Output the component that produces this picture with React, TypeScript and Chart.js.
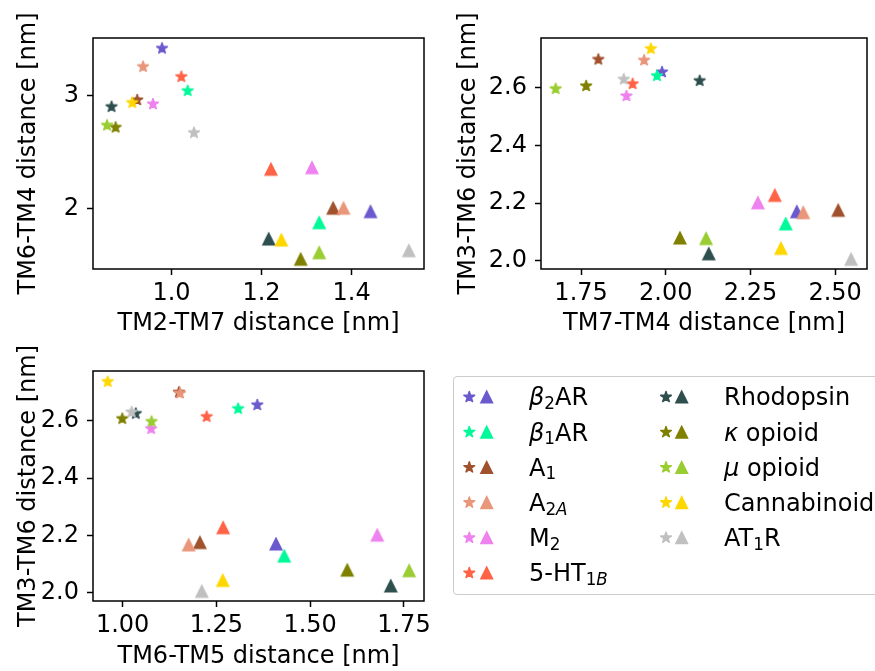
import React, { useEffect, useRef } from "react";
import { Chart, registerables } from "chart.js";
Chart.register(...registerables);

const FONT = "'DejaVu Sans', 'Liberation Sans', sans-serif";

// receptor order: β2AR, β1AR, A1, A2A, M2, 5-HT1B, Rhodopsin, κ opioid, μ opioid, Cannabinoid, AT1R
const receptorKeys = ["b2AR", "b1AR", "A1", "A2A", "M2", "5HT1B", "Rhodopsin", "kappa", "mu", "Cannabinoid", "AT1R"];
const receptorColors = ["#6A5ACD", "#00FA9A", "#A0522D", "#E9967A", "#EE82EE", "#FF6347", "#2F4F4F", "#808000", "#9ACD32", "#FFD700", "#C0C0C0"];

// star markers
const starTM2TM7 = [0.979, 1.036, 0.924, 0.937, 0.959, 1.022, 0.867, 0.876, 0.857, 0.913, 1.05];
const starTM6TM4 = [3.422, 3.045, 2.963, 3.259, 2.927, 3.17, 2.903, 2.72, 2.738, 2.939, 2.672];
const starTM7TM4 = [1.989, 1.974, 1.801, 1.936, 1.884, 1.902, 2.1, 1.765, 1.675, 1.956, 1.876];
const starTM3TM6 = [2.655, 2.642, 2.699, 2.696, 2.572, 2.614, 2.625, 2.607, 2.597, 2.736, 2.63];
const starTM6TM5 = [1.359, 1.308, 1.15, 1.153, 1.076, 1.224, 1.035, 0.999, 1.077, 0.96, 1.024];

// triangle markers
const triTM2TM7 = [1.442, 1.328, 1.359, 1.382, 1.312, 1.221, 1.216, 1.287, 1.328, 1.244, 1.527];
const triTM6TM4 = [1.97, 1.872, 2.001, 2.001, 2.361, 2.347, 1.727, 1.547, 1.605, 1.718, 1.623];
const triTM7TM4 = [2.387, 2.354, 2.509, 2.406, 2.272, 2.322, 2.127, 2.042, 2.119, 2.34, 2.547];
const triTM3TM6 = [2.17, 2.128, 2.175, 2.167, 2.201, 2.227, 2.024, 2.079, 2.077, 2.043, 2.005];
const triTM6TM5 = [1.409, 1.431, 1.206, 1.176, 1.679, 1.268, 1.715, 1.599, 1.764, 1.267, 1.211];

// ticks
const xTicks1 = [1.0, 1.2, 1.4];
const yTicks1 = [2, 3];
const xTicks2 = [1.75, 2.0, 2.25, 2.5];
const yTicks2 = [2.0, 2.2, 2.4, 2.6];
const xTicks3 = [1.0, 1.25, 1.5, 1.75];
const yTicks3 = [2.0, 2.2, 2.4, 2.6];

const imgCache: Record<string, HTMLCanvasElement> = {};

function starImage(color: string) {
  const key = "s" + color;
  if (imgCache[key]) return imgCache[key];
  const size = 16;
  const c = document.createElement("canvas");
  c.width = size;
  c.height = size;
  const ctx = c.getContext("2d")!;
  const cx = size / 2, cy = size / 2;
  const R = 5.6, r = R * 0.381966;
  ctx.beginPath();
  for (let k = 0; k < 10; k++) {
    const ang = -Math.PI / 2 + (k * Math.PI) / 5;
    const rad = k % 2 === 0 ? R : r;
    const px = cx + rad * Math.cos(ang), py = cy + rad * Math.sin(ang);
    if (k === 0) ctx.moveTo(px, py); else ctx.lineTo(px, py);
  }
  ctx.closePath();
  ctx.fillStyle = color;
  ctx.fill();
  ctx.lineWidth = 1.5;
  ctx.lineJoin = "round";
  ctx.strokeStyle = color;
  ctx.stroke();
  imgCache[key] = c;
  return c;
}

function triImage(color: string) {
  const key = "t" + color;
  if (imgCache[key]) return imgCache[key];
  const size = 20;
  const c = document.createElement("canvas");
  c.width = size;
  c.height = size;
  const ctx = c.getContext("2d")!;
  const cx = size / 2, cy = size / 2;
  const h = 11.6 / 2;
  ctx.beginPath();
  ctx.moveTo(cx, cy - h);
  ctx.lineTo(cx - h, cy + h);
  ctx.lineTo(cx + h, cy + h);
  ctx.closePath();
  ctx.fillStyle = color;
  ctx.fill();
  ctx.lineWidth = 1.5;
  ctx.lineJoin = "miter";
  ctx.strokeStyle = color;
  ctx.stroke();
  imgCache[key] = c;
  return c;
}

const framePlugin = {
  id: "frame",
  afterDatasetsDraw(chart: any) {
    const { ctx, chartArea: a } = chart;
    ctx.save();
    ctx.strokeStyle = "#000";
    ctx.lineWidth = 1.5;
    ctx.strokeRect(a.left, a.top, a.right - a.left, a.bottom - a.top);
    ctx.restore();
  },
};

type PanelProps = {
  left: number; top: number; width: number; height: number;
  padTop: number; padRight: number; yAxisWidth: number; xAxisHeight: number;
  xStar: number[]; yStar: number[]; xTri: number[]; yTri: number[];
  xMin: number; xMax: number; yMin: number; yMax: number;
  xTicks: number[]; yTicks: number[]; xDec: number; yDec: number;
  xTitle: string; yTitle: string; xTitlePad: number;
};

function Panel(p: PanelProps) {
  const ref = useRef<HTMLCanvasElement>(null);
  useEffect(() => {
    const datasets: any[] = [];
    receptorKeys.forEach((k, i) => {
      datasets.push({
        label: k + " star",
        data: [{ x: p.xStar[i], y: p.yStar[i] }],
        pointStyle: starImage(receptorColors[i]),
        pointRadius: 6,
        backgroundColor: receptorColors[i],
        borderColor: receptorColors[i],
      });
      datasets.push({
        label: k + " triangle",
        data: [{ x: p.xTri[i], y: p.yTri[i] }],
        pointStyle: triImage(receptorColors[i]),
        pointRadius: 7,
        backgroundColor: receptorColors[i],
        borderColor: receptorColors[i],
      });
    });
    datasets.reverse();
    const tickFont = { family: FONT, size: 24 };
    const grid = {
      display: true,
      drawOnChartArea: false,
      drawTicks: true,
      tickLength: 6,
      tickWidth: 1.5,
      tickColor: "#000",
    };
    const chart = new Chart(ref.current!, {
      type: "scatter",
      data: { datasets },
      plugins: [framePlugin],
      options: {
        animation: false,
        responsive: false,
        devicePixelRatio: 1,
        events: [],
        layout: { padding: { top: p.padTop, right: p.padRight, left: 0, bottom: 0 } },
        plugins: { legend: { display: false }, tooltip: { enabled: false } },
        scales: {
          x: {
            type: "linear",
            position: "bottom",
            min: p.xMin,
            max: p.xMax,
            grid,
            border: { display: false },
            ticks: {
              color: "#000",
              font: tickFont,
              padding: 4,
              autoSkip: false,
              maxRotation: 0,
              minRotation: 0,
              callback: (v: any) => Number(v).toFixed(p.xDec),
            },
            afterBuildTicks: (s: any) => {
              s.ticks = p.xTicks.map((v) => ({ value: v }));
            },
            afterFit: (s: any) => {
              s.height = p.xAxisHeight;
            },
            title: {
              display: true,
              text: p.xTitle,
              color: "#000",
              font: { family: FONT, size: 24 },
              padding: { top: 0, bottom: p.xTitlePad },
            },
          },
          y: {
            type: "linear",
            position: "left",
            min: p.yMin,
            max: p.yMax,
            grid,
            border: { display: false },
            ticks: {
              color: "#000",
              font: tickFont,
              padding: 8,
              autoSkip: false,
              callback: (v: any) => Number(v).toFixed(p.yDec),
            },
            afterBuildTicks: (s: any) => {
              s.ticks = p.yTicks.map((v) => ({ value: v }));
            },
            afterFit: (s: any) => {
              s.width = p.yAxisWidth;
            },
            title: {
              display: true,
              text: p.yTitle,
              color: "#000",
              font: { family: FONT, size: 24 },
              padding: { top: 14.5, bottom: 0 },
            },
          },
        },
      } as any,
    });
    return () => chart.destroy();
  }, []);
  return (
    <canvas
      ref={ref}
      width={p.width}
      height={p.height}
      style={{ position: "absolute", left: p.left, top: p.top, width: p.width, height: p.height }}
    />
  );
}

const legendLabels: React.ReactNode[] = [
  <><i>β</i><Sub>2</Sub>AR</>,
  <><i>β</i><Sub>1</Sub>AR</>,
  <>A<Sub>1</Sub></>,
  <>A<Sub>2<i>A</i></Sub></>,
  <>M<Sub>2</Sub></>,
  <>5-HT<Sub>1<i>B</i></Sub></>,
  <>Rhodopsin</>,
  <><i>κ</i> opioid</>,
  <><i>μ</i> opioid</>,
  <>Cannabinoid</>,
  <>AT<Sub>1</Sub>R</>,
];

function Sub({ children }: { children: React.ReactNode }) {
  return (
    <span style={{ fontSize: "70%", position: "relative", top: "3.5px" }}>{children}</span>
  );
}

function StarSvg({ color, x, y }: { color: string; x: number; y: number }) {
  const R = 5.6, r = R * 0.381966;
  const pts: string[] = [];
  for (let k = 0; k < 10; k++) {
    const ang = -Math.PI / 2 + (k * Math.PI) / 5;
    const rad = k % 2 === 0 ? R : r;
    pts.push(`${(x + rad * Math.cos(ang)).toFixed(2)},${(y + rad * Math.sin(ang)).toFixed(2)}`);
  }
  return <polygon points={pts.join(" ")} fill={color} stroke={color} strokeWidth={1.5} strokeLinejoin="round" />;
}

function TriSvg({ color, x, y }: { color: string; x: number; y: number }) {
  const h = 11.6 / 2;
  const pts = `${x},${y - h} ${x - h},${y + h} ${x + h},${y + h}`;
  return <polygon points={pts} fill={color} stroke={color} strokeWidth={1.5} strokeLinejoin="miter" />;
}

function Legend() {
  const rowY = [397, 432.2, 467.4, 502.6, 537.8, 573];
  const cols = [
    { star: 469.3, tri: 486.7, text: 529 },
    { star: 666, tri: 681.7, text: 724 },
  ];
  const items = receptorKeys.map((k, i) => {
    const col = i < 6 ? cols[0] : cols[1];
    const y = rowY[i < 6 ? i : i - 6];
    return { i, col, y };
  });
  return (
    <>
      <div
        style={{
          position: "absolute",
          left: 453,
          top: 375.5,
          width: 440,
          height: 219,
          border: "1.5px solid #cccccc",
          borderRadius: 4,
          boxSizing: "border-box",
          background: "#fff",
        }}
      />
      <svg width={875} height={671} style={{ position: "absolute", left: 0, top: 0 }}>
        {items.map(({ i, col, y }) => (
          <g key={i}>
            <StarSvg color={receptorColors[i]} x={col.star} y={y} />
            <TriSvg color={receptorColors[i]} x={col.tri} y={y} />
          </g>
        ))}
      </svg>
      {items.map(({ i, col, y }) => (
        <div
          key={"t" + i}
          style={{
            position: "absolute",
            left: col.text,
            top: y - 11.56,
            fontFamily: FONT,
            fontSize: 24,
            lineHeight: "24px",
            color: "#000",
            whiteSpace: "nowrap",
          }}
        >
          {legendLabels[i]}
        </div>
      ))}
    </>
  );
}

export default function App() {
  return (
    <div
      style={{
        position: "fixed",
        left: 0,
        top: 0,
        width: 875,
        height: 671,
        overflow: "hidden",
        background: "#fff",
      }}
    >
      <Panel
        left={0} top={0} width={440} height={340}
        padTop={38} padRight={16} yAxisWidth={93} xAxisHeight={71}
        xStar={starTM2TM7} yStar={starTM6TM4} xTri={triTM2TM7} yTri={triTM6TM4}
        xMin={0.8258} xMax={1.5607} yMin={1.4604} yMax={3.514}
        xTicks={xTicks1} yTicks={yTicks1} xDec={1} yDec={0}
        xTitle="TM2-TM7 distance [nm]" yTitle="TM6-TM4 distance [nm]" xTitlePad={2.3}
      />
      <Panel
        left={440} top={0} width={435} height={340}
        padTop={38} padRight={3} yAxisWidth={101} xAxisHeight={71}
        xStar={starTM7TM4} yStar={starTM3TM6} xTri={triTM7TM4} yTri={triTM3TM6}
        xMin={1.6317} xMax={2.594} yMin={1.9715} yMax={2.7732}
        xTicks={xTicks2} yTicks={yTicks2} xDec={2} yDec={1}
        xTitle="TM7-TM4 distance [nm]" yTitle="TM3-TM6 distance [nm]" xTitlePad={2.3}
      />
      <Panel
        left={0} top={330} width={440} height={341}
        padTop={41} padRight={16} yAxisWidth={93} xAxisHeight={70}
        xStar={starTM6TM5} yStar={starTM3TM6} xTri={triTM6TM5} yTri={triTM3TM6}
        xMin={0.921} xMax={1.8035} yMin={1.9715} yMax={2.7732}
        xTicks={xTicks3} yTicks={yTicks3} xDec={2} yDec={1}
        xTitle="TM6-TM5 distance [nm]" yTitle="TM3-TM6 distance [nm]" xTitlePad={0}
      />
      <Legend />
    </div>
  );
}
